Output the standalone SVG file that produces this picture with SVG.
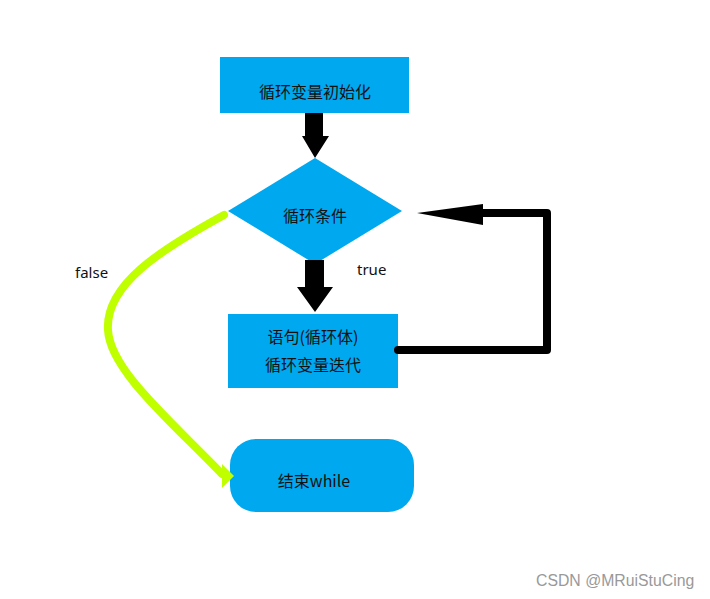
<svg xmlns="http://www.w3.org/2000/svg" width="710" height="599" viewBox="0 0 710 599">
<style>
.box{fill:#00A8F0}
.t{font-family:"Microsoft YaHei","Noto Sans CJK SC",sans-serif;font-size:16px;fill:#111;text-anchor:middle}
.lbl{font-family:"Noto Sans","Open Sans",sans-serif;font-size:15px;fill:#111}
.blk{fill:none;stroke:#000;stroke-width:8;stroke-linecap:round;stroke-linejoin:round}
.grn{fill:none;stroke:#BFFF00;stroke-width:8;stroke-linecap:round}
</style>
<rect width="710" height="599" fill="#fff"/>
<g id="init">
<rect class="box" x="220" y="57" width="189" height="56"/>
<text class="t" x="315" y="98">循环变量初始化</text>
</g>
<g id="cond">
<polygon class="box" points="315,158 402,211 315,264 228,211"/>
<text class="t" x="315" y="222">循环条件</text>
</g>
<g id="body">
<rect class="box" x="228" y="314" width="170" height="74"/>
<text class="t" x="313" y="343">语句(循环体)</text>
<text class="t" x="313" y="371">循环变量迭代</text>
</g>
<g id="end">
<rect class="box" x="230" y="439" width="184" height="73" rx="26" ry="26"/>
<text class="t" x="314" y="487">结束while</text>
</g>
<g id="connectors">
<polygon fill="#000" points="305,113 323,113 323,136 329,136 315,158 302,136 305,136"/>
<polygon fill="#000" points="305,260 324,260 324,287 333,287 315,312 297,287 305,287"/>
<polyline class="blk" points="398,350 547,350 547,213 482,213"/>
<polygon fill="#000" points="417,213 483,204 483,225"/>
<path class="grn" d="M224,215 C160,250 105,285 108,330 C110,370 170,420 222,474"/>
<polygon fill="#BFFF00" points="234,476 222,464 222,488"/>
<text class="lbl" x="75" y="278">false</text>
<text class="lbl" x="357" y="275" fill="#333">true</text>
</g>
<text x="536" y="586" font-family="Liberation Sans, Arial, sans-serif" font-size="15.8" fill="#999">CSDN @MRuiStuCing</text>
</svg>
